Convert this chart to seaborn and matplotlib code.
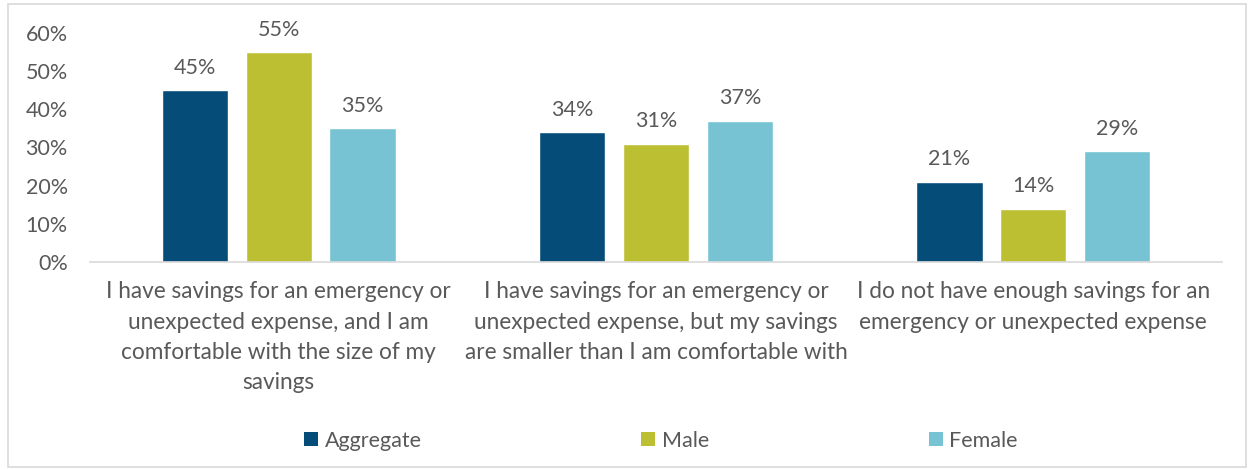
import matplotlib
matplotlib.use("Agg")
import matplotlib.pyplot as plt
from matplotlib.patches import Rectangle, Patch
from matplotlib.ticker import PercentFormatter
import seaborn as sns
import pandas as pd

categories = [
    "I have savings for an emergency or\nunexpected expense, and I am\ncomfortable with the size of my\nsavings",
    "I have savings for an emergency or\nunexpected expense, but my savings\nare smaller than I am comfortable with",
    "I do not have enough savings for an\nemergency or unexpected expense",
]
groups = ["Aggregate", "Male", "Female"]
aggregate = [45, 34, 21]
male = [55, 31, 14]
female = [35, 37, 29]
colors = ["#054C79", "#BDBF33", "#77C3D4"]

df = pd.DataFrame({
    "category": categories * 3,
    "group": [g for g in groups for _ in categories],
    "value": aggregate + male + female,
})

sns.set_theme(style="white")
plt.rcParams["font.family"] = ["Lato", "DejaVu Sans"]
text_color = "#595959"
fs = 15.5

fig = plt.figure(figsize=(12.54, 4.69), dpi=100)
ax = fig.add_axes([0.0718, 0.4414, 0.9027, 0.4883])

sns.barplot(data=df, x="category", y="value", hue="group", hue_order=groups,
            palette=colors, width=0.667, gap=0.21, ax=ax, legend=False,
            saturation=1, errorbar=None)

for cont in ax.containers:
    ax.bar_label(cont, labels=[f"{v:.0f}%" for v in cont.datavalues],
                 padding=9, fontsize=fs, color=text_color, clip_on=False)

ax.set_ylim(0, 60)
ax.set_xlim(-0.5, 2.5)
ax.set_yticks(range(0, 61, 10))
ax.yaxis.set_major_formatter(PercentFormatter(decimals=0))
ax.set_xlabel("")
ax.set_ylabel("")
ax.tick_params(axis="both", length=0, labelsize=fs, labelcolor=text_color)
ax.tick_params(axis="x", pad=14, labelsize=16.3)
ax.tick_params(axis="y", pad=16)
for lbl in ax.get_xticklabels():
    lbl.set_linespacing(1.55)
for s in ["top", "right", "left"]:
    ax.spines[s].set_visible(False)
ax.spines["bottom"].set_color("#D9D9D9")
ax.spines["bottom"].set_linewidth(1.2)

handles = [Patch(facecolor=c, edgecolor="none") for c in colors]
fig.legend(handles, groups, loc="center", bbox_to_anchor=(0.527, 0.06),
           ncol=3, frameon=False, fontsize=fs, labelcolor=text_color,
           handlelength=0.65, handleheight=0.65, handletextpad=0.3,
           columnspacing=10.2)

fig.patches.append(Rectangle((0.006, 0.004), 0.988, 0.988, transform=fig.transFigure,
                             fill=False, edgecolor="#D9D9D9", linewidth=1.2))

fig.savefig("out.png", dpi=100)
